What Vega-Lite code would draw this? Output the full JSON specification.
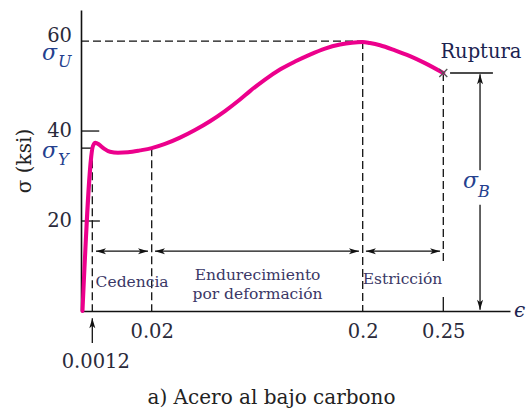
{
  "$schema": "https://vega.github.io/schema/vega-lite/v6.json",
  "width": 429,
  "height": 301,
  "autosize": {"type": "none"},
  "padding": {"left": 81, "top": 10, "right": 16, "bottom": 100},
  "background": "white",
  "config": {"view": {"stroke": null}},
  "title": {"text": "a) Acero al bajo carbono", "orient": "bottom", "anchor": "middle", "font": "DejaVu Serif", "fontSize": 20, "fontWeight": "normal", "color": "#222222", "dx": -24, "offset": 17},
  "datasets": {
    "curve": [
      {"s": 0.00016, "k": 0}, {"s": 0.00142, "k": 36.7}, {"s": 0.00221, "k": 37.4}, {"s": 0.00332, "k": 37.0},
      {"s": 0.0049, "k": 36.1}, {"s": 0.0068, "k": 35.4}, {"s": 0.00933, "k": 35.2}, {"s": 0.0125, "k": 35.3},
      {"s": 0.0163, "k": 35.7}, {"s": 0.02, "k": 36.2}, {"s": 0.03135, "k": 37.13}, {"s": 0.04414, "k": 38.53},
      {"s": 0.05693, "k": 40.22}, {"s": 0.06973, "k": 42.18}, {"s": 0.08252, "k": 44.44}, {"s": 0.09532, "k": 47.0},
      {"s": 0.10385, "k": 48.87}, {"s": 0.11665, "k": 51.44}, {"s": 0.12944, "k": 53.67}, {"s": 0.14223, "k": 55.44},
      {"s": 0.15503, "k": 57.0}, {"s": 0.16782, "k": 58.33}, {"s": 0.18062, "k": 59.22}, {"s": 0.19086, "k": 59.64},
      {"s": 0.2, "k": 59.8}, {"s": 0.20453, "k": 59.56}, {"s": 0.21073, "k": 59.07}, {"s": 0.22003, "k": 57.93},
      {"s": 0.22933, "k": 56.64}, {"s": 0.23863, "k": 55.09}, {"s": 0.25, "k": 52.89}
    ],
    "dashed": [
      {"s": 0.0012, "k": 36.2, "s2": 0.0012, "k2": 0},
      {"s": 0.02, "k": 36.2, "s2": 0.02, "k2": 0},
      {"s": 0.2, "k": 60, "s2": 0.2, "k2": 0},
      {"s": 0.25, "k": 52.9, "s2": 0.25, "k2": 10.2},
      {"s": 0, "k": 60, "s2": 0.2, "k2": 60}
    ],
    "solid": [
      {"s": 0, "k": 36.2, "s2": 0.0012, "k2": 36.2},
      {"s": 0, "k": 40, "s2": 0.0034, "k2": 40},
      {"s": 0, "k": 20, "s2": 0.0036, "k2": 20},
      {"s": 0.25, "k": 0, "s2": 0.25, "k2": 3.1},
      {"s": 0.2542, "k": 52.9, "s2": 0.2808, "k2": 52.9},
      {"s": 0.2728, "k": 52.6, "s2": 0.2728, "k2": 31.3},
      {"s": 0.2728, "k": 23.6, "s2": 0.2728, "k2": 0.3},
      {"s": 0.00237, "k": 13.3, "s2": 0.01883, "k2": 13.3},
      {"s": 0.0228, "k": 13.3, "s2": 0.1968, "k2": 13.3},
      {"s": 0.202, "k": 13.3, "s2": 0.248, "k2": 13.3},
      {"s": 0.0012, "k": -1.6, "s2": 0.0012, "k2": -7.1}
    ],
    "heads": [
      {"s": 0.00237, "k": 13.3, "dir": "L"}, {"s": 0.01883, "k": 13.3, "dir": "R"},
      {"s": 0.0228, "k": 13.3, "dir": "L"}, {"s": 0.1968, "k": 13.3, "dir": "R"},
      {"s": 0.202, "k": 13.3, "dir": "L"}, {"s": 0.248, "k": 13.3, "dir": "R"},
      {"s": 0.2728, "k": 52.6, "dir": "U"}, {"s": 0.2728, "k": 0.3, "dir": "D"},
      {"s": 0.0012, "k": -1.6, "dir": "U"}
    ]
  },
  "encoding": {
    "x": {"field": "s", "type": "quantitative",
      "scale": {"domain": [0, 0.0012, 0.02, 0.2, 0.25, 0.2914], "range": [0, 11.3, 70.7, 281.7, 362.3, 429], "nice": false, "zero": false},
      "axis": {"values": [0.0012, 0.02, 0.2, 0.25], "format": ".4~g", "ticks": false, "grid": false, "title": null,
        "domainColor": "#111111", "domainWidth": 1.6, "labelFont": "DejaVu Serif", "labelFontSize": 19.5, "labelColor": "#2a2a3a",
        "labelBaseline": "top", "labelOverlap": false, "labelFlush": false, "labelBound": false,
        "labelPadding": {"condition": {"test": "datum.value < 0.005", "value": 41}, "value": 11},
        "labelOffset": {"condition": {"test": "datum.value < 0.005", "value": 3}, "value": 0}}},
    "y": {"field": "k", "type": "quantitative",
      "scale": {"domain": [0, 66.9], "nice": false, "zero": false},
      "axis": {"ticks": false, "labels": false, "grid": false, "domainColor": "#111111", "domainWidth": 1.6,
        "title": "σ (ksi)", "titleFont": "DejaVu Serif", "titleFontSize": 20, "titleFontWeight": "normal", "titleColor": "#222222", "titlePadding": 47}}
  },
  "layer": [
    {"data": {"name": "dashed"}, "mark": {"type": "rule", "color": "#111111", "strokeWidth": 1.3, "strokeDash": [8, 4]},
      "encoding": {"x2": {"field": "s2"}, "y2": {"field": "k2"}}},
    {"data": {"name": "solid"}, "mark": {"type": "rule", "color": "#111111", "strokeWidth": 1.3},
      "encoding": {"x2": {"field": "s2"}, "y2": {"field": "k2"}}},
    {"data": {"name": "curve"}, "mark": {"type": "line", "color": "#ec008c", "strokeWidth": 4, "interpolate": "monotone", "strokeCap": "round"}, "encoding": {}},
    {"data": {"name": "heads"}, "transform": [{"filter": "datum.dir == 'R'"}],
      "mark": {"type": "point", "shape": "M 0 0 L -1 -0.3 L -0.75 0 L -1 0.3 Z", "size": 400, "filled": true, "color": "#111111", "opacity": 1, "angle": 0}},
    {"data": {"name": "heads"}, "transform": [{"filter": "datum.dir == 'L'"}],
      "mark": {"type": "point", "shape": "M 0 0 L -1 -0.3 L -0.75 0 L -1 0.3 Z", "size": 400, "filled": true, "color": "#111111", "opacity": 1, "angle": 180}},
    {"data": {"name": "heads"}, "transform": [{"filter": "datum.dir == 'U'"}],
      "mark": {"type": "point", "shape": "M 0 0 L -1 -0.3 L -0.75 0 L -1 0.3 Z", "size": 400, "filled": true, "color": "#111111", "opacity": 1, "angle": 270}},
    {"data": {"name": "heads"}, "transform": [{"filter": "datum.dir == 'D'"}],
      "mark": {"type": "point", "shape": "M 0 0 L -1 -0.3 L -0.75 0 L -1 0.3 Z", "size": 400, "filled": true, "color": "#111111", "opacity": 1, "angle": 90}},
    {"data": {"values": [{"s": 0.25, "k": 52.9}]},
      "mark": {"type": "point", "shape": "M -1 -1 L 1 1 M -1 1 L 1 -1", "size": 64, "filled": false, "stroke": "#555555", "strokeWidth": 1.3, "opacity": 1}},
    {"data": {"values": [
        {"s": 0.0138, "k": 5.4, "t": "Cedencia"},
        {"s": 0.1103, "k": 6.8, "t": "Endurecimiento"},
        {"s": 0.1103, "k": 2.6, "t": "por deformación"},
        {"s": 0.2247, "k": 6.0, "t": "Estricción"}]},
      "mark": {"type": "text", "font": "DejaVu Serif", "fontSize": 15.5, "color": "#3a3766", "align": "center", "baseline": "alphabetic"},
      "encoding": {"text": {"field": "t"}}},
    {"data": {"values": [{"s": 0.2482, "k": 56.2, "t": "Ruptura"}]},
      "mark": {"type": "text", "font": "DejaVu Serif", "fontSize": 19.5, "color": "#1c2350", "align": "left", "baseline": "alphabetic"},
      "encoding": {"text": {"field": "t"}}},
    {"data": {"values": [{"s": 0, "k": 60, "t": "60"}]},
      "mark": {"type": "text", "font": "DejaVu Serif", "fontSize": 19.5, "color": "#2a2a3a", "align": "right", "baseline": "alphabetic", "dx": -9, "dy": 1},
      "encoding": {"text": {"field": "t"}}},
    {"data": {"values": [{"s": 0, "k": 40, "t": "40"}, {"s": 0, "k": 20, "t": "20"}]},
      "mark": {"type": "text", "font": "DejaVu Serif", "fontSize": 19.5, "color": "#2a2a3a", "align": "right", "baseline": "middle", "dx": -9},
      "encoding": {"text": {"field": "t"}}},
    {"data": {"values": [{"s": 0, "k": 55.8, "t": "σ"}, {"s": 0, "k": 34.0, "t": "σ"}]},
      "mark": {"type": "text", "font": "DejaVu Serif", "fontStyle": "italic", "fontSize": 22, "color": "#24408e", "align": "right", "baseline": "alphabetic", "dx": -24},
      "encoding": {"text": {"field": "t"}}},
    {"data": {"values": [{"s": 0, "k": 54.2, "t": "U"}, {"s": 0, "k": 32.4, "t": "Y"}]},
      "mark": {"type": "text", "font": "DejaVu Serif", "fontStyle": "italic", "fontSize": 16, "color": "#24408e", "align": "left", "baseline": "alphabetic", "dx": -23},
      "encoding": {"text": {"field": "t"}}},
    {"data": {"values": [{"s": 0.2728, "k": 27.3, "t": "σ"}]},
      "mark": {"type": "text", "font": "DejaVu Serif", "fontStyle": "italic", "fontSize": 22, "color": "#24408e", "align": "right", "baseline": "alphabetic", "dx": -2},
      "encoding": {"text": {"field": "t"}}},
    {"data": {"values": [{"s": 0.2728, "k": 25.3, "t": "B"}]},
      "mark": {"type": "text", "font": "DejaVu Serif", "fontStyle": "italic", "fontSize": 16, "color": "#24408e", "align": "left", "baseline": "alphabetic", "dx": -2},
      "encoding": {"text": {"field": "t"}}},
    {"data": {"values": [{"s": 0.2914, "k": 0, "t": "ϵ"}]},
      "mark": {"type": "text", "font": "DejaVu Serif", "fontStyle": "italic", "fontSize": 20, "color": "#1c2350", "align": "left", "baseline": "middle", "dx": 4},
      "encoding": {"text": {"field": "t"}}}
  ]
}
